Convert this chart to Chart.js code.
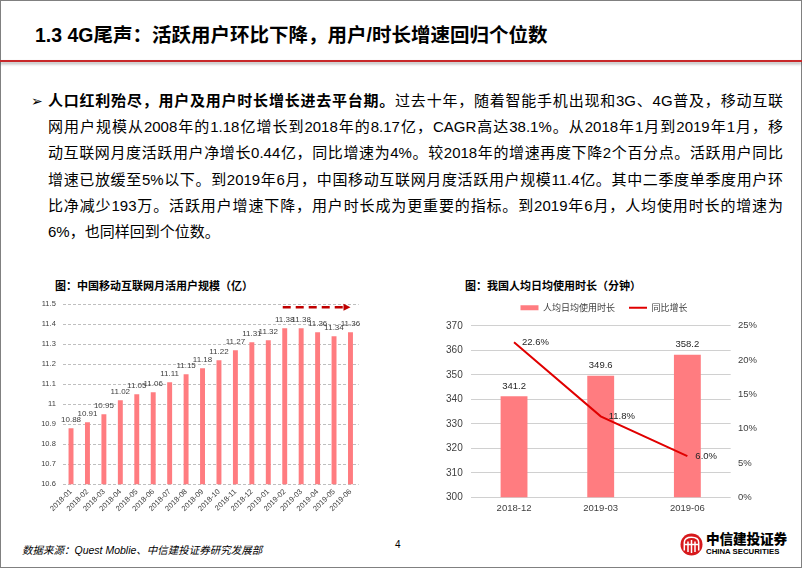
<!DOCTYPE html>
<html>
<head>
<meta charset="utf-8">
<script src="https://cdn.jsdelivr.net/npm/chart.js@4.4.0/dist/chart.umd.min.js"></script>
<style>
html,body{margin:0;padding:0;background:#fff;}
#slide{position:relative;width:802px;height:569px;overflow:hidden;background:#fff;font-family:'Liberation Sans','Noto Sans CJK SC',sans-serif;color:#000;}
#frame{position:absolute;left:0;top:0;width:800px;height:566px;border:1px solid #808080;}
#title{position:absolute;left:35px;top:23px;font-size:19.5px;font-weight:bold;white-space:nowrap;line-height:24px;}
#rule{position:absolute;left:0;top:60px;width:802px;height:2px;background:#C8282A;box-shadow:0 2px 3px rgba(0,0,0,0.35);}
#bullet{position:absolute;left:31px;top:91px;font-family:'DejaVu Sans';font-size:14px;line-height:20px;}
#body{position:absolute;left:48px;top:88px;width:735px;font-size:15px;line-height:26.2px;}
#body div{text-align:justify;text-align-last:justify;height:26.2px;}
#body div.last{text-align-last:left;}
.ctitle{position:absolute;top:278px;font-family:'Noto Sans CJK SC',sans-serif;font-size:11px;font-weight:bold;line-height:14px;white-space:nowrap;color:#000;}
canvas{position:absolute;}
#source{position:absolute;left:22px;top:543px;font-size:10.5px;font-style:italic;line-height:14px;white-space:nowrap;color:#000;}
#page{position:absolute;left:395px;top:539px;font-size:10px;line-height:12px;}
#logoTxt{position:absolute;left:706px;top:530px;font-family:'Noto Sans CJK SC',serif;font-size:13.7px;font-weight:900;line-height:16px;letter-spacing:-0.2px;white-space:nowrap;}
#logoEn{position:absolute;left:706px;top:547px;font-size:7.8px;font-weight:bold;line-height:9px;white-space:nowrap;}
</style>
</head>
<body>
<div id="slide">
  <div id="frame"></div>
  <div id="title">1.3 4G尾声：活跃用户环比下降，用户/时长增速回归个位数</div>
  <div id="rule"></div>
  <div id="bullet">➢</div>
  <div id="body">
    <div><b>人口红利殆尽，用户及用户时长增长进去平台期。</b>过去十年，随着智能手机出现和3G、4G普及，移动互联</div>
    <div>网用户规模从2008年的1.18亿增长到2018年的8.17亿，CAGR高达38.1%。从2018年1月到2019年1月，移</div>
    <div>动互联网月度活跃用户净增长0.44亿，同比增速为4%。较2018年的增速再度下降2个百分点。活跃用户同比</div>
    <div>增速已放缓至5%以下。到2019年6月，中国移动互联网月度活跃用户规模11.4亿。其中二季度单季度用户环</div>
    <div>比净减少193万。活跃用户增速下降，用户时长成为更重要的指标。到2019年6月，人均使用时长的增速为</div>
    <div class="last">6%，也同样回到个位数。</div>
  </div>
  <div class="ctitle" style="left:55px;">图：中国移动互联网月活用户规模（亿）</div>
  <div class="ctitle" style="left:465px;">图：我国人均日均使用时长（分钟）</div>
  <canvas id="c1" width="350" height="240" style="left:20px;top:290px;width:350px;height:240px;"></canvas>
  <canvas id="c2" width="380" height="233" style="left:414px;top:287px;width:380px;height:233px;"></canvas>
  <div id="source">数据来源：Quest Moblie、中信建投证券研究发展部</div>
  <div id="page">4</div>
  <svg style="position:absolute;left:680px;top:533px" width="23" height="23" viewBox="0 0 23 23">
    <circle cx="11.5" cy="11.5" r="11" fill="#D7191C"/>
    <g stroke="#fff" stroke-width="1.5" fill="none">
      <path d="M4.3 17.5 V9.5 Q4.3 4.2 11.5 4.2 Q18.7 4.2 18.7 9.5 V17.5"/>
      <path d="M8 19 V8.5"/><path d="M11.5 20 V7"/><path d="M15 19 V8.5"/>
      <path d="M4.3 11.5 H18.7"/>
    </g>
  </svg>
  <div id="logoTxt">中信建投证券</div>
  <div id="logoEn">CHINA SECURITIES</div>
</div>
<script>
// ---------- data ----------
const monthLabels = ['2018-01','2018-02','2018-03','2018-04','2018-05','2018-06','2018-07','2018-08','2018-09','2018-10','2018-11','2018-12','2019-01','2019-02','2019-03','2019-04','2019-05','2019-06'];
const mauValues = [10.88,10.91,10.95,11.02,11.05,11.06,11.11,11.15,11.18,11.22,11.27,11.31,11.32,11.38,11.38,11.36,11.34,11.36];
const quarterLabels = ['2018-12','2019-03','2019-06'];
const dailyMinutes = [341.2,349.6,358.2];
const yoyGrowth = [22.6,11.8,6.0];
const seriesNames = ['人均日均使用时长','同比增长'];

Chart.defaults.font.family = "'Liberation Sans', Arial, sans-serif";
Chart.defaults.color = '#404040';

function makeLabels(items){
  return {
    id:'valueLabels',
    afterDatasetsDraw(chart){
      const ctx = chart.ctx;
      items.forEach(it=>{
        const meta = chart.getDatasetMeta(it.dataset);
        const ds = chart.data.datasets[it.dataset];
        ctx.save();
        ctx.font = it.font; ctx.fillStyle = it.color;
        ctx.textAlign = it.align; ctx.textBaseline = 'middle';
        meta.data.forEach((el,i)=>{
          ctx.fillText(it.format(ds.data[i]), el.x + it.dx, el.y + it.dy);
        });
        ctx.restore();
      });
    }
  };
}

const trendArrow = {
  id:'trendArrow',
  afterDatasetsDraw(chart){
    const xs = chart.scales.x, ys = chart.scales.y, ctx = chart.ctx;
    const x0 = xs.getPixelForValue(13) - 2;
    const x1 = xs.getPixelForValue(17);
    const yy = ys.getPixelForValue(11.5) + 3;
    ctx.save();
    ctx.strokeStyle = '#C00000'; ctx.fillStyle = '#C00000';
    ctx.lineWidth = 2.5; ctx.setLineDash([8,5]);
    ctx.beginPath(); ctx.moveTo(x0, yy); ctx.lineTo(x1 - 6, yy); ctx.stroke();
    ctx.setLineDash([]);
    ctx.beginPath(); ctx.moveTo(x1, yy); ctx.lineTo(x1 - 7, yy - 3.5); ctx.lineTo(x1 - 7, yy + 3.5); ctx.closePath(); ctx.fill();
    ctx.restore();
  }
};

// ---------- left chart ----------
new Chart(document.getElementById('c1'), {
  type:'bar',
  data:{labels:monthLabels, datasets:[{data:mauValues, backgroundColor:'#FF7C80', barPercentage:0.3, categoryPercentage:1}]},
  options:{
    responsive:false, animation:false,
    layout:{padding:{left:0, right:11.3, top:14.3, bottom:0}},
    plugins:{legend:{display:false}, tooltip:{enabled:false}},
    scales:{
      x:{grid:{display:false, drawTicks:false}, border:{display:false},
         ticks:{maxRotation:45, minRotation:45, autoSkip:false, font:{size:7.5}, color:'#404040', padding:3},
         afterFit(s){ s.height = 45.7; }},
      y:{min:10.6, max:11.5,
         ticks:{stepSize:0.1, font:{size:7.5}, color:'#404040', padding:7, callback:v=>String(Number(v.toFixed(1)))},
         grid:{color:'#BFBFBF', drawTicks:false}, border:{display:false, dash:[3,2]},
         afterFit(s){ s.width = 42.8; }}
    }
  },
  plugins:[makeLabels([{dataset:0, font:"8px 'Liberation Sans'", color:'#404040', align:'center', dx:0, dy:-8.5, format:v=>v.toFixed(2)}]), trendArrow]
});

// ---------- right chart ----------
new Chart(document.getElementById('c2'), {
  data:{labels:quarterLabels, datasets:[
    {type:'line', label:seriesNames[1], data:yoyGrowth, yAxisID:'y1', borderColor:'#E00000', backgroundColor:'#E00000', borderWidth:2, pointRadius:0, pointStyle:'line', tension:0},
    {type:'bar', label:seriesNames[0], data:dailyMinutes, yAxisID:'y', backgroundColor:'#FF7C80', borderWidth:0, barPercentage:0.31, categoryPercentage:1, pointStyle:'rect'}
  ]},
  options:{
    responsive:false, animation:false,
    layout:{padding:{left:0, right:0, top:2.2, bottom:0}},
    plugins:{
      tooltip:{enabled:false},
      legend:{position:'top', labels:{usePointStyle:true, pointStyleWidth:18, boxHeight:5, padding:14,
        font:{size:9, family:"'Noto Sans CJK SC', sans-serif"}, color:'#404040',
        sort:(a,b)=>b.datasetIndex-a.datasetIndex}},
      subtitle:{display:true, text:'', weight:500, padding:0, font:{size:3, lineHeight:1.2}}
    },
    scales:{
      x:{grid:{display:false, drawTicks:false}, border:{display:false},
         ticks:{font:{size:9.5}, color:'#404040', padding:5},
         afterFit(s){ s.height = 22.7; }},
      y:{position:'left', min:300, max:370,
         ticks:{stepSize:10, font:{size:10}, color:'#404040', padding:8},
         grid:{color:'#D0D0D0', drawTicks:false}, border:{display:false},
         afterFit(s){ s.width = 56.7; }},
      y1:{position:'right', min:0, max:25,
         ticks:{stepSize:5, font:{size:9.5}, color:'#404040', padding:7.3, callback:v=>v+'%'},
         grid:{display:false, drawTicks:false}, border:{display:false},
         afterFit(s){ s.width = 63.3; }}
    }
  },
  plugins:[makeLabels([
    {dataset:1, font:"9.5px 'Liberation Sans'", color:'#262626', align:'center', dx:0, dy:-10, format:v=>v.toFixed(1)},
    {dataset:0, font:"9.5px 'Liberation Sans'", color:'#262626', align:'left', dx:8, dy:0, format:v=>v.toFixed(1)+'%'}
  ])]
});
</script>
</body>
</html>
